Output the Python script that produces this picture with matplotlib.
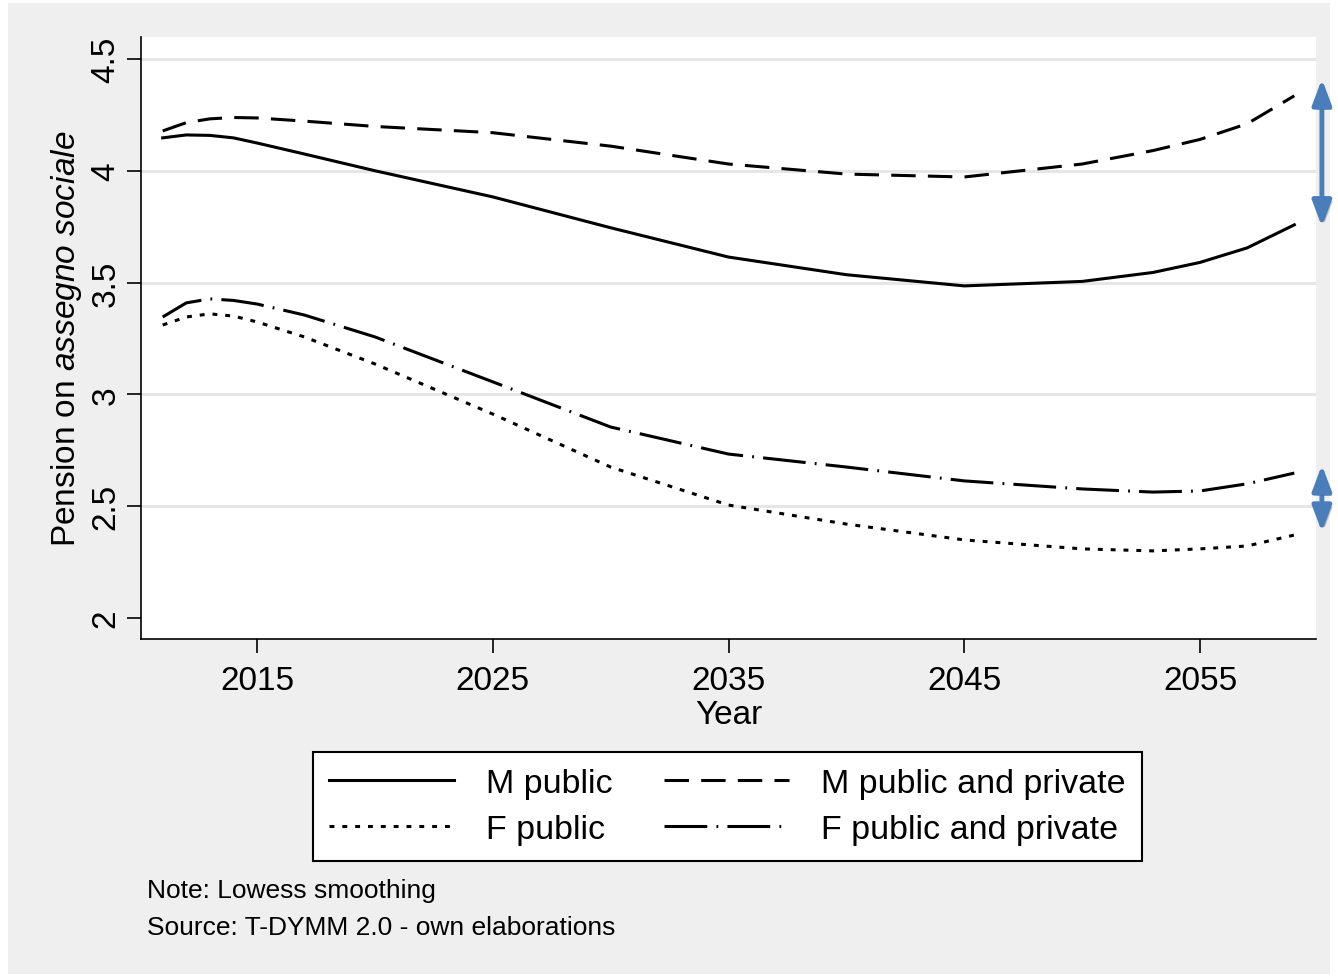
import matplotlib
matplotlib.use("Agg")
import matplotlib.pyplot as plt
import matplotlib.patheffects as pe
from matplotlib.patches import Rectangle

plt.rcParams['font.family'] = ['Liberation Sans', 'DejaVu Sans']
plt.rcParams['mathtext.fontset'] = 'custom'
plt.rcParams['mathtext.rm'] = 'Liberation Sans'
plt.rcParams['mathtext.it'] = 'Liberation Sans:italic'

# lowess-smoothed pension / assegno sociale ratio
years = [2011, 2012, 2013, 2014, 2015, 2017, 2020, 2025, 2030, 2035,
         2040, 2045, 2050, 2053, 2055, 2057, 2059]
m_public = [4.147, 4.160, 4.158, 4.147, 4.124, 4.075, 4.000, 3.883, 3.745, 3.614,
            3.535, 3.485, 3.505, 3.545, 3.590, 3.655, 3.758]
m_pubpriv = [4.178, 4.215, 4.232, 4.238, 4.236, 4.222, 4.198, 4.170, 4.110, 4.030,
             3.985, 3.972, 4.030, 4.090, 4.140, 4.210, 4.335]
f_public = [3.310, 3.346, 3.360, 3.350, 3.324, 3.257, 3.136, 2.912, 2.675, 2.505,
            2.420, 2.349, 2.309, 2.300, 2.309, 2.322, 2.371]
f_pubpriv = [3.346, 3.409, 3.427, 3.420, 3.404, 3.355, 3.257, 3.056, 2.854, 2.733,
             2.675, 2.613, 2.577, 2.563, 2.568, 2.600, 2.648]

xticks = [2015, 2025, 2035, 2045, 2055]
yticks = [2, 2.5, 3, 3.5, 4, 4.5]

# gaps highlighted on the right margin
gap_m = (4.41, 3.75)
gap_f = (2.684, 2.385)

fig = plt.figure(figsize=(13.38, 9.79), dpi=100, facecolor='white')
fig.patches.append(Rectangle((8 / 1338, 4 / 979), 1322 / 1338, 971 / 979,
                             transform=fig.transFigure, facecolor='#efefef',
                             edgecolor='none', zorder=-10))

ax = fig.add_axes([141 / 1338, 1 - 640 / 979, 1175 / 1338, 602 / 979])
ax.set_facecolor('white')

for y in yticks[1:]:
    ax.axhline(y, color='#e6e6e6', lw=2.2, zorder=0)

lw = 2.2
ax.plot(years, m_public, color='black', lw=lw, label='M public')
ax.plot(years, f_public, color='black', lw=lw, dashes=(1.6, 2.6), label='F public')
ax.plot(years, m_pubpriv, color='black', lw=lw, dashes=(8, 4), label='M public and private')
ax.plot(years, f_pubpriv, color='black', lw=lw, dashes=(14, 3, 0.6, 3),
        label='F public and private')

ax.set_xlim(2010.08, 2059.92)
ax.set_ylim(1.906, 4.598)
ax.set_xticks(xticks)
ax.set_yticks(yticks)
ax.set_yticklabels(['2', '2.5', '3', '3.5', '4', '4.5'], rotation=90, va='center')
ax.tick_params(axis='both', labelsize=24, length=10, width=1.2, pad=9)
ax.tick_params(axis='y', pad=4)
for side in ['top', 'right']:
    ax.spines[side].set_visible(False)
for side in ['left', 'bottom']:
    ax.spines[side].set_linewidth(1.2)

ax.set_xlabel('Year', fontsize=24, labelpad=2)
ax.set_ylabel('Pension on $\\it{assegno\\ sociale}$', fontsize=24, labelpad=5)

blue = '#4a7ebb'
for top, bot in [gap_m, gap_f]:
    ax.annotate('', xy=(2060.17, top), xytext=(2060.17, bot),
                annotation_clip=False,
                arrowprops=dict(arrowstyle='<|-|>,head_length=0.85,head_width=0.32',
                                color=blue, lw=3.5, mutation_scale=18,
                                shrinkA=0, shrinkB=0,
                                path_effects=[pe.SimplePatchShadow(offset=(2, -2), alpha=0.25),
                                              pe.Normal()]))

handles, labels = ax.get_legend_handles_labels()
leg = fig.legend(handles, labels, ncol=2, loc='center',
                 bbox_to_anchor=(727.5 / 1338, 1 - 807.5 / 979),
                 fontsize=24.5, frameon=True, fancybox=False, edgecolor='black',
                 framealpha=1, handlelength=3.68, handletextpad=0.94, columnspacing=1.5,
                 labelspacing=0.45, borderpad=0.46)
leg.get_frame().set_linewidth(1.5)
leg.get_frame().set_facecolor('white')

fig.text(147 / 1338, 1 - 891 / 979, 'Note: Lowess smoothing', fontsize=19, va='center')
fig.text(147 / 1338, 1 - 928 / 979, 'Source: T-DYMM 2.0 - own elaborations', fontsize=19,
         va='center')

fig.savefig('out.png', dpi=100, facecolor=fig.get_facecolor())
